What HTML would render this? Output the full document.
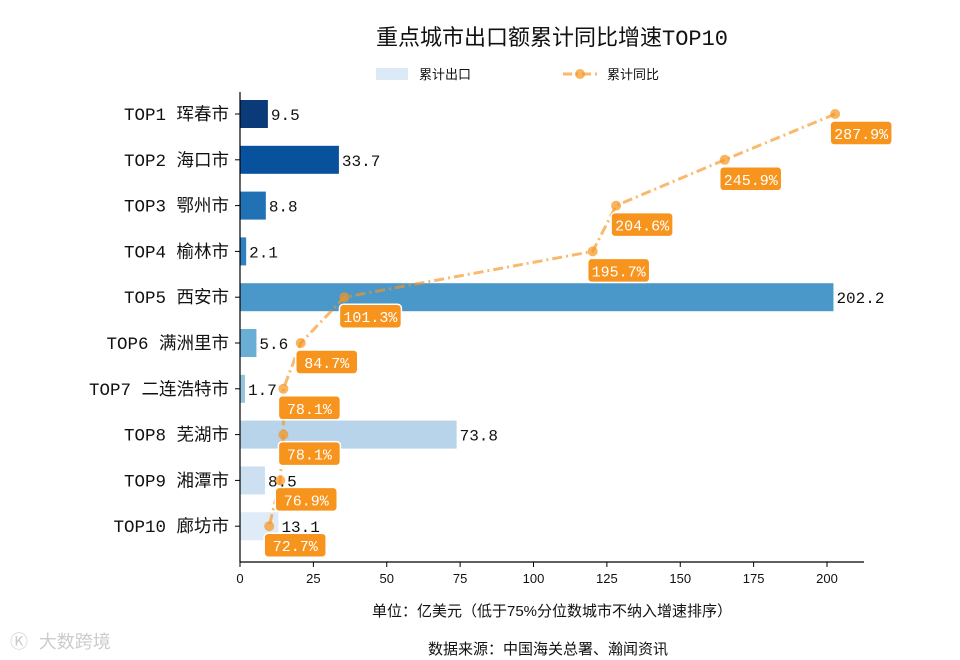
<!DOCTYPE html>
<html><head><meta charset="utf-8"><style>
body{margin:0;background:#fff}
svg{display:block;font-family:"Liberation Mono","Noto Sans CJK SC",monospace}
</style></head><body>
<svg id="c" width="960" height="660" viewBox="0 0 960 660">
<text x="552" y="45" font-size="22" text-anchor="middle" fill="#111">重点城市出口额累计同比增速TOP10</text>
<g>
<rect x="376" y="68" width="32" height="12" fill="#dce9f6"/>
<text x="419" y="79" font-size="13" fill="#111">累计出口</text>
<line x1="563" y1="74" x2="597" y2="74" stroke="#f7941d" stroke-opacity="0.65" stroke-width="3" stroke-dasharray="9,4,2,4"/>
<circle cx="580" cy="74" r="5" fill="#f7941d" fill-opacity="0.7"/>
<text x="607" y="79" font-size="13" fill="#111">累计同比</text>
</g>
<g id="plot"></g>
<text x="552" y="616" font-size="15" text-anchor="middle" fill="#111" style="font-family:'Liberation Sans','Noto Sans CJK SC',sans-serif">单位：亿美元（低于75%分位数城市不纳入增速排序）</text>
<text x="548" y="654" font-size="15" text-anchor="middle" fill="#111" style="font-family:'Liberation Sans','Noto Sans CJK SC',sans-serif">数据来源：中国海关总署、瀚闻资讯</text>
<text x="10" y="648" font-size="18" fill="#ccc">Ⓚ 大数跨境</text>
</svg>
<script>
const categories=["TOP1 珲春市","TOP2 海口市","TOP3 鄂州市","TOP4 榆林市","TOP5 西安市","TOP6 满洲里市","TOP7 二连浩特市","TOP8 芜湖市","TOP9 湘潭市","TOP10 廊坊市"];
const exportValues=[9.5,33.7,8.8,2.1,202.2,5.6,1.7,73.8,8.5,13.1];
const growthValues=[287.9,245.9,204.6,195.7,101.3,84.7,78.1,78.1,76.9,72.7];
const xTicks=[0,25,50,75,100,125,150,175,200];
const barColors=["#0b3a78","#08519c","#2171b5","#2f7fc1","#4a98c9","#6aaed6","#94c4df","#b7d4ea","#cde0f1","#dfebf7"];
const NS="http://www.w3.org/2000/svg";
const g=document.getElementById('plot');
const x=v=>240+v*2.935;
const xp=v=>78+v*2.63;
const y=i=>114+i*45.8;
function mk(t,a,txt){const e=document.createElementNS(NS,t);for(const k in a)e.setAttribute(k,a[k]);if(txt!=null)e.textContent=txt;g.appendChild(e);return e;}
exportValues.forEach((v,i)=>{
 const r=mk('rect',{x:240,y:y(i)-14,width:Math.max(0,x(v)-240),height:28,fill:barColors[i]});
 
 
 const t=mk('text',{x:x(v)+3,y:y(i)+6,'font-size':16,fill:'#111'},v.toFixed(1));
 
 
 const l=mk('text',{x:229,y:y(i)+6,'font-size':17.5,fill:'#111','text-anchor':'end'},categories[i]);
 
 
 const tk=mk('line',{x1:235,x2:240,y1:y(i),y2:y(i),stroke:'#000'});
 
 
});
const ax=mk('line',{x1:240,x2:864,y1:562,y2:562,stroke:'#000','stroke-width':1.2});


const ay=mk('line',{x1:240,x2:240,y1:92,y2:562,stroke:'#000','stroke-width':1.2});


xTicks.forEach(v=>{
 const tk=mk('line',{x1:x(v),x2:x(v),y1:562,y2:567,stroke:'#000'});
 
 
 const t=mk('text',{x:x(v),y:583,'font-size':13,'text-anchor':'middle',fill:'#111',style:"font-family:'Liberation Sans',sans-serif"},String(v));
 
 
});
const pts=growthValues.map((v,i)=>xp(v)+','+y(i)).join(' ');
const pl=mk('polyline',{points:pts,fill:'none',stroke:'#f7941d','stroke-opacity':0.65,'stroke-width':3,'stroke-dasharray':'10,4,2,4'});


growthValues.forEach((v,i)=>{
 const c=mk('circle',{cx:xp(v),cy:y(i),r:5,fill:'#f7941d','fill-opacity':0.7});
 
 
});
growthValues.forEach((v,i)=>{
 const bx=xp(v)-5,by=y(i)+7;
 const r=mk('rect',{x:bx,y:by,width:62,height:24,rx:4,fill:'#f7941d',stroke:'#fff','stroke-width':1.5});
 
 
 const t=mk('text',{x:bx+31,y:by+18,'font-size':15,fill:'#fff','text-anchor':'middle'},v.toFixed(1)+'%');
 
 
});
</script>
</body></html>
